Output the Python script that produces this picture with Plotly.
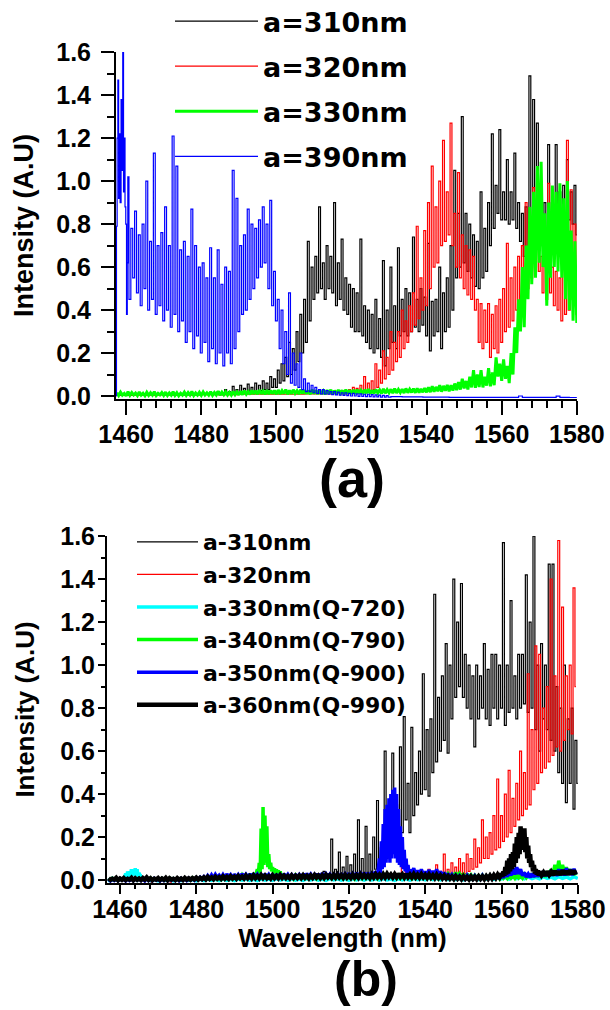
import plotly.graph_objects as go

# ---------------- Panel (a) data ----------------
# a=310nm (black, thin)
A310_BASE_X = [1457.3, 1466.0, 1475.0, 1484.0]
A310_BASE_Y = [0.004, 0.006, 0.005, 0.008]
A310_START = 1484.5
A310_HI = [0.02, 0.015, 0.03, 0.02, 0.045, 0.03, 0.05, 0.035, 0.055, 0.04,
           0.06, 0.05, 0.07, 0.06, 0.09, 0.08, 0.12, 0.15, 0.18, 0.25,
           0.22, 0.3, 0.38, 0.45, 0.72, 0.6, 0.65, 0.88, 0.62, 0.7,
           0.65, 0.9, 0.62, 0.73, 0.55, 0.52, 0.5, 0.48, 0.73, 0.42,
           0.4, 0.38, 0.45, 0.36, 0.63, 0.4, 0.6, 0.42, 0.69, 0.45,
           0.5, 0.48, 0.74, 0.45, 0.5, 0.46, 0.71, 0.44, 0.45, 0.6,
           0.48, 0.55, 0.7, 1.05, 0.85, 1.3, 0.85, 0.8, 0.75, 0.72,
           0.95, 0.78, 0.9, 1.22, 0.98, 1.24, 0.95, 1.1, 0.95, 1.13,
           0.9, 0.85, 0.88, 1.49, 1.38, 1.27, 0.95, 0.9, 1.17, 0.9,
           1.17, 0.95, 0.98, 1.1, 0.95, 0.98]
A310_LO = [0.005, 0.005, 0.008, 0.006, 0.01, 0.01, 0.012, 0.015, 0.015, 0.02,
           0.02, 0.025, 0.03, 0.03, 0.04, 0.04, 0.06, 0.07, 0.09, 0.1,
           0.12, 0.16, 0.2, 0.25, 0.35, 0.45, 0.48, 0.5, 0.45, 0.5,
           0.48, 0.42, 0.45, 0.4, 0.38, 0.32, 0.3, 0.3, 0.28, 0.25,
           0.22, 0.2, 0.22, 0.18, 0.14, 0.22, 0.25, 0.22, 0.28, 0.3,
           0.28, 0.3, 0.32, 0.3, 0.33, 0.28, 0.21, 0.28, 0.3, 0.22,
           0.3, 0.32, 0.4, 0.55, 0.6, 0.62, 0.58, 0.55, 0.51, 0.5,
           0.55, 0.58, 0.7, 0.78, 0.85, 0.82, 0.82, 0.8, 0.82, 0.78,
           0.72, 0.65, 0.6, 0.7, 0.75, 0.8, 0.7, 0.65, 0.68, 0.72,
           0.75, 0.8, 0.78, 0.82, 0.8, 0.75]

# a=320nm (red, thin)
A320_BASE_X = [1457.3, 1480.0, 1500.0, 1515.0]
A320_BASE_Y = [0.004, 0.006, 0.008, 0.01]
A320_START = 1515.5
A320_HI = [0.02, 0.018, 0.025, 0.02, 0.03, 0.04, 0.035, 0.05, 0.09, 0.06,
           0.07, 0.15, 0.12, 0.21, 0.18, 0.3, 0.25, 0.3, 0.4, 0.35,
           0.42, 0.48, 0.79, 0.55, 0.77, 0.9, 1.07, 0.88, 1.0, 1.19,
           0.95, 1.27, 0.85, 1.04, 0.75, 0.7, 0.68, 0.65, 0.45, 0.43,
           0.4, 0.43, 0.38, 0.42, 0.45, 0.5, 0.71, 0.55, 0.6, 0.65,
           0.7, 0.9, 0.75, 0.97, 0.85, 0.65, 0.62, 0.99, 0.6, 0.58,
           0.55, 0.6, 1.19, 0.96, 0.8]
A320_LO = [0.008, 0.01, 0.008, 0.01, 0.012, 0.015, 0.015, 0.02, 0.02, 0.025,
           0.03, 0.04, 0.06, 0.08, 0.1, 0.12, 0.16, 0.18, 0.22, 0.25,
           0.3, 0.33, 0.36, 0.4, 0.42, 0.5, 0.6, 0.62, 0.7, 0.72,
           0.75, 0.7, 0.6, 0.55, 0.5, 0.47, 0.45, 0.4, 0.25, 0.22,
           0.25, 0.18, 0.22, 0.2, 0.25, 0.3, 0.32, 0.35, 0.4, 0.42,
           0.45, 0.5, 0.55, 0.6, 0.58, 0.48, 0.45, 0.48, 0.42, 0.4,
           0.35, 0.38, 0.4, 0.45, 0.38]

# a=330nm (green, thick)
A330_START = 1457.5
A330_HI = [0.015, 0.018, 0.012, 0.02, 0.016, 0.014, 0.019, 0.013, 0.017, 0.015,
           0.02, 0.012, 0.016, 0.018, 0.014, 0.02, 0.015, 0.013, 0.018, 0.016,
           0.021, 0.014, 0.017, 0.019, 0.015, 0.02, 0.016, 0.022, 0.018, 0.02,
           0.017, 0.021, 0.019,
           0.022, 0.025, 0.02, 0.026, 0.024, 0.028, 0.023, 0.027, 0.025, 0.026,
           0.028, 0.025, 0.03, 0.026, 0.029, 0.024, 0.03, 0.027, 0.025, 0.029,
           0.026, 0.028, 0.024, 0.027, 0.029, 0.025, 0.028, 0.026, 0.03, 0.027,
           0.028, 0.03, 0.026, 0.029, 0.032, 0.027, 0.03, 0.028, 0.033, 0.029,
           0.031, 0.034, 0.03, 0.032, 0.035, 0.031, 0.034, 0.036, 0.033, 0.037,
           0.04, 0.045, 0.042, 0.05, 0.047, 0.052, 0.05, 0.058,
           0.065, 0.08, 0.07, 0.09, 0.12,
           0.1, 0.12, 0.09, 0.13, 0.11,
           0.18, 0.15, 0.17, 0.14, 0.2, 0.32, 0.45,
           0.6, 0.7, 0.88, 0.95, 1.07, 1.09, 0.85, 0.9, 0.98, 0.95,
           0.99, 0.92, 1.0, 0.77, 0.72]
A330_LO = [0.002, 0.004, 0.0, 0.003, 0.005, 0.002, 0.004, 0.001, 0.003, 0.004,
           0.002, 0.005, 0.003, 0.002, 0.004, 0.003, 0.001, 0.004, 0.003, 0.005,
           0.002, 0.004, 0.003, 0.005, 0.004, 0.003, 0.005, 0.004, 0.006, 0.005,
           0.004, 0.006, 0.005,
           0.006, 0.008, 0.007, 0.009, 0.008, 0.01, 0.008, 0.009, 0.01, 0.008,
           0.009, 0.011, 0.008, 0.01, 0.012, 0.009, 0.011, 0.01, 0.008, 0.011,
           0.009, 0.01, 0.008, 0.011, 0.009, 0.01, 0.012, 0.009, 0.011, 0.01,
           0.01, 0.012, 0.01, 0.013, 0.011, 0.012, 0.014, 0.012, 0.013, 0.015,
           0.013, 0.014, 0.016, 0.014, 0.015, 0.017, 0.015, 0.016, 0.018, 0.017,
           0.018, 0.02, 0.022, 0.02, 0.024, 0.022, 0.025, 0.027,
           0.03, 0.035, 0.03, 0.04, 0.038,
           0.042, 0.04, 0.048, 0.045, 0.05,
           0.09, 0.07, 0.08, 0.06, 0.1, 0.2, 0.3,
           0.32, 0.45, 0.52, 0.55, 0.62, 0.6, 0.42, 0.55, 0.6, 0.58,
           0.55, 0.45, 0.4, 0.35, 0.34]

# a=390nm (blue, thin)
A390_HEAD_X = [1457.35, 1457.5, 1457.7, 1457.9, 1458.1, 1458.3, 1458.5, 1458.8,
               1459.0, 1459.2, 1459.4, 1459.6, 1459.8, 1460.0, 1460.2, 1460.4]
A390_HEAD_Y = [0.0, 0.79, 1.2, 1.47, 0.92, 1.22, 0.9, 1.38,
               1.05, 1.6, 0.95, 1.2, 0.88, 0.8, 0.38, 0.62]
A390_START = 1460.5
A390_HI = [1.02, 0.78, 0.86, 0.75, 0.8, 1.0, 0.72, 1.13, 0.7, 0.76,
           0.88, 0.7, 1.21, 1.07, 0.68, 0.72, 0.65, 0.87, 0.7, 0.6,
           0.62, 0.55, 0.69, 0.55, 0.68, 0.52, 0.6, 0.58, 1.05, 0.92,
           0.7, 0.75, 0.87, 0.8, 0.78, 0.82, 0.88, 0.8, 0.91, 0.58,
           0.45, 0.4, 0.3, 0.48, 0.2, 0.15, 0.2, 0.08, 0.06, 0.05,
           0.04, 0.03, 0.03, 0.025, 0.02, 0.02, 0.018, 0.015, 0.015, 0.012,
           0.012, 0.01, 0.01, 0.008, 0.008, 0.006, 0.005, 0.004, 0.003, 0.002]
A390_LO = [0.45, 0.55, 0.48, 0.42, 0.5, 0.4, 0.45, 0.38, 0.42, 0.35,
           0.4, 0.32, 0.38, 0.3, 0.35, 0.25, 0.3, 0.22, 0.28, 0.2,
           0.25, 0.16, 0.22, 0.15, 0.2, 0.14, 0.2, 0.15, 0.22, 0.3,
           0.38, 0.4, 0.45, 0.5, 0.55, 0.6, 0.62, 0.5, 0.42, 0.35,
           0.22, 0.15, 0.1, 0.06, 0.05, 0.04, 0.03, 0.02, 0.02, 0.015,
           0.012, 0.01, 0.01, 0.008, 0.006, 0.005, 0.004, 0.003, 0.002, 0.0,
           0.0, -0.002, -0.002, -0.003, -0.003, -0.004, -0.004, -0.005, -0.005, -0.005]
A390_TAIL_X = [1531.0, 1536.0, 1542.0, 1550.0, 1558.0, 1564.0, 1565.0, 1566.0,
               1568.0, 1574.0, 1575.0, 1576.0, 1580.0]
A390_TAIL_Y = [-0.003, -0.004, -0.005, -0.006, -0.006, -0.006, 0.0, -0.006,
               -0.006, -0.006, -0.001, -0.006, -0.007]

# ---------------- Panel (b) data ----------------
# a-310nm (black, thin)
B310_BASE_X = [1456.8, 1480.0, 1500.0, 1510.0]
B310_BASE_Y = [0.003, 0.005, 0.008, 0.01]
B310_START = 1510.5
B310_HI = [0.02, 0.03, 0.02, 0.04, 0.03, 0.19, 0.05, 0.13, 0.06, 0.11,
           0.07, 0.12, 0.28, 0.1, 0.25, 0.12, 0.2, 0.37, 0.15, 0.6,
           0.3, 0.59, 0.35, 0.62, 0.76, 0.45, 0.71, 0.5, 0.6, 0.96,
           0.7, 0.75, 1.33, 0.85, 0.95, 1.1, 1.0, 1.4, 1.2, 1.38,
           1.05, 1.0, 0.95, 1.0, 0.95, 1.1, 0.98, 1.05, 1.05, 1.0,
           1.57, 1.0, 1.3, 0.95, 1.05, 1.05, 1.42, 1.2, 1.6, 1.0,
           1.1, 1.0, 1.47, 1.47, 0.9, 0.8, 1.0, 0.75, 0.8, 0.65]
B310_LO = [0.008, 0.01, 0.01, 0.012, 0.012, 0.015, 0.015, 0.02, 0.02, 0.02,
           0.025, 0.025, 0.03, 0.03, 0.035, 0.04, 0.05, 0.06, 0.08, 0.1,
           0.15, 0.18, 0.2, 0.22, 0.28, 0.22, 0.3, 0.35, 0.4, 0.42,
           0.39, 0.5, 0.55, 0.6, 0.65, 0.59, 0.75, 0.85, 0.9, 0.85,
           0.8, 0.75, 0.62, 0.75, 0.8, 0.75, 0.72, 0.8, 0.75, 0.8,
           0.72, 0.78, 0.8, 0.75, 0.8, 0.82, 0.78, 0.8, 0.7, 0.6,
           0.75, 0.7, 0.65, 0.6, 0.5, 0.45, 0.36, 0.45, 0.33, 0.45]

# a-320nm (red, thin)
B320_BASE_X = [1456.8, 1468.0, 1468.3, 1468.6, 1473.0, 1473.3, 1473.6, 1500.0,
               1520.0, 1533.0, 1534.5, 1535.0, 1539.5]
B320_BASE_Y = [0.0, 0.0, -0.012, 0.0, 0.0, -0.01, 0.0, 0.005,
               0.008, 0.01, 0.11, 0.01, 0.01]
B320_START = 1540.0
B320_HI = [0.03, 0.05, 0.02, 0.07, 0.04, 0.12, 0.05, 0.08, 0.06, 0.1,
           0.08, 0.12, 0.1, 0.19, 0.15, 0.28, 0.2, 0.22, 0.3, 0.47,
           0.3, 0.4, 0.51, 0.38, 0.45, 0.6, 0.5, 0.96, 0.7, 1.09,
           1.05, 0.8, 0.9, 1.4, 0.95, 1.58, 1.27, 0.95, 1.0, 1.36]
B320_LO = [0.005, 0.008, 0.006, 0.01, 0.01, 0.012, 0.015, 0.02, 0.02, 0.03,
           0.03, 0.04, 0.05, 0.06, 0.08, 0.1, 0.1, 0.12, 0.14, 0.15,
           0.18, 0.2, 0.22, 0.25, 0.28, 0.3, 0.33, 0.35, 0.42, 0.45,
           0.5, 0.52, 0.55, 0.58, 0.62, 0.6, 0.65, 0.7, 0.68, 0.9]

# a-330nm(Q-720) (cyan, thick)
B330_BASE_X = [1456.8, 1459.0, 1461.0]
B330_BASE_Y = [-0.002, 0.0, 0.004]
B330_PEAK_START = 1461.5
B330_PEAK_HI = [0.03, 0.04, 0.035, 0.05, 0.045, 0.055, 0.05, 0.035, 0.015]
B330_PEAK_LO = [0.01, 0.015, 0.02, 0.02, 0.025, 0.02, 0.015, 0.01, 0.003]
B330_START = 1467.0
B330_HI = [0.003, 0.002, 0.004, 0.002, 0.003, 0.004, 0.002, 0.003, 0.004, 0.003,
           0.004, 0.003, 0.005, 0.004, 0.003, 0.005, 0.004, 0.006, 0.004, 0.005,
           0.004, 0.006, 0.005, 0.004, 0.006, 0.005, 0.004, 0.006, 0.005, 0.006,
           0.005, 0.006, 0.004, 0.006, 0.005, 0.007, 0.006, 0.008, 0.007, 0.009,
           0.008, 0.007, 0.009, 0.008, 0.01, 0.009, 0.012, 0.011, 0.013, 0.012,
           0.014, 0.012, 0.015, 0.013, 0.016, 0.014, 0.015]
B330_LO = [-0.003, -0.004, -0.002, -0.004, -0.003, -0.002, -0.004, -0.003, -0.002, -0.003,
           -0.002, -0.003, -0.001, -0.002, -0.003, -0.001, -0.002, 0.0, -0.002, -0.001,
           -0.002, 0.0, -0.001, -0.002, 0.0, -0.001, -0.002, 0.0, -0.001, 0.0,
           -0.001, 0.0, -0.002, 0.0, -0.001, 0.001, 0.0, 0.002, 0.001, 0.002,
           0.002, 0.001, 0.003, 0.002, 0.004, 0.003, 0.005, 0.004, 0.006, 0.005,
           0.006, 0.005, 0.007, 0.006, 0.008, 0.006, 0.007]

# a-340nm(Q-790) (green, thick)
B340_START = 1457.0
B340_HI = [0.006, 0.008, 0.005, 0.007, 0.009, 0.006, 0.008, 0.005, 0.007, 0.008,
           0.006, 0.009, 0.007, 0.005, 0.008, 0.006, 0.009, 0.007, 0.008, 0.006,
           0.009, 0.007, 0.01, 0.008, 0.011, 0.009, 0.012, 0.01, 0.013, 0.011,
           0.014, 0.012, 0.016, 0.018, 0.02, 0.024, 0.022, 0.028, 0.03]
B340_LO = [0.0, 0.002, -0.001, 0.001, 0.002, 0.0, 0.001, -0.001, 0.002, 0.001,
           0.0, 0.002, 0.001, -0.001, 0.001, 0.0, 0.002, 0.001, 0.002, 0.0,
           0.002, 0.001, 0.003, 0.002, 0.003, 0.002, 0.004, 0.003, 0.004, 0.003,
           0.005, 0.004, 0.006, 0.007, 0.008, 0.01, 0.009, 0.012, 0.013]
B340_PEAK_START = 1496.0
B340_PEAK_HI = [0.05, 0.08, 0.24, 0.34, 0.3, 0.25, 0.12, 0.08, 0.06, 0.055,
                0.05, 0.045, 0.04, 0.03, 0.025, 0.022]
B340_PEAK_LO = [0.02, 0.03, 0.05, 0.07, 0.08, 0.06, 0.05, 0.04, 0.03, 0.025,
                0.02, 0.02, 0.015, 0.012, 0.01, 0.01]
B340_TAIL_START = 1504.0
B340_TAIL_HI = [0.02, 0.018, 0.022, 0.019, 0.02, 0.017, 0.021, 0.018, 0.02, 0.019,
                0.021, 0.018, 0.02, 0.022, 0.019, 0.021, 0.02, 0.018, 0.022, 0.02,
                0.021, 0.019, 0.022, 0.02, 0.024, 0.026, 0.03, 0.022, 0.02, 0.021,
                0.02, 0.022, 0.019, 0.021, 0.02, 0.022, 0.018, 0.02, 0.021, 0.019,
                0.022, 0.025, 0.028, 0.03, 0.035, 0.03, 0.025, 0.028, 0.024, 0.022,
                0.02, 0.022, 0.019, 0.021, 0.02, 0.018, 0.022, 0.02, 0.024, 0.022,
                0.025, 0.023, 0.026, 0.028, 0.03, 0.032, 0.035, 0.03, 0.04, 0.05,
                0.07, 0.09, 0.07, 0.06, 0.05, 0.045]
B340_TAIL_LO = [0.008, 0.006, 0.009, 0.007, 0.008, 0.006, 0.009, 0.007, 0.008, 0.007,
                0.009, 0.007, 0.008, 0.01, 0.007, 0.009, 0.008, 0.006, 0.009, 0.008,
                0.009, 0.007, 0.01, 0.008, 0.01, 0.012, 0.014, 0.01, 0.008, 0.009,
                0.008, 0.01, 0.007, 0.009, 0.008, 0.01, 0.007, 0.008, 0.009, 0.007,
                0.01, 0.012, 0.014, 0.015, 0.016, 0.014, 0.012, 0.013, 0.011, 0.01,
                0.008, 0.01, 0.007, 0.009, 0.008, 0.006, 0.009, 0.008, 0.01, 0.009,
                0.011, 0.01, 0.012, 0.013, 0.014, 0.015, 0.016, 0.014, 0.02, 0.025,
                0.03, 0.035, 0.03, 0.028, 0.025, 0.022]

# a-350nm(Q-900) (blue, thick)
B350_START = 1457.0
B350_HI = [0.004, 0.006, 0.005, 0.007, 0.004, 0.006, 0.005, 0.007, 0.006, 0.004,
           0.006, 0.005, 0.007, 0.004, 0.006, 0.005, 0.007, 0.006, 0.005, 0.007,
           0.006, 0.008, 0.007, 0.01, 0.012, 0.015, 0.02, 0.024, 0.026, 0.022,
           0.025, 0.028, 0.024, 0.027, 0.025, 0.029, 0.026, 0.028, 0.03, 0.027,
           0.025, 0.028, 0.026, 0.024, 0.027, 0.025, 0.028, 0.026, 0.024, 0.027,
           0.025, 0.028, 0.03, 0.027, 0.025, 0.029, 0.032, 0.028, 0.026, 0.029,
           0.027, 0.03, 0.028, 0.031, 0.029, 0.033, 0.03, 0.034, 0.032, 0.035,
           0.04]
B350_LO = [-0.004, -0.002, -0.003, -0.001, -0.004, -0.002, -0.003, -0.001, -0.002, -0.004,
           -0.002, -0.003, -0.001, -0.004, -0.002, -0.003, -0.001, -0.002, -0.003, -0.001,
           -0.002, 0.0, -0.001, 0.002, 0.003, 0.005, 0.008, 0.01, 0.012, 0.01,
           0.011, 0.013, 0.01, 0.012, 0.011, 0.014, 0.012, 0.013, 0.015, 0.012,
           0.011, 0.013, 0.012, 0.01, 0.012, 0.011, 0.013, 0.012, 0.01, 0.012,
           0.011, 0.013, 0.014, 0.012, 0.011, 0.013, 0.015, 0.013, 0.012, 0.014,
           0.012, 0.014, 0.013, 0.015, 0.014, 0.016, 0.014, 0.016, 0.015, 0.017,
           0.02]
B350_PEAK_START = 1528.0
B350_PEAK_HI = [0.1, 0.18, 0.26, 0.33, 0.35, 0.38, 0.4, 0.42, 0.43, 0.4,
                0.33, 0.25, 0.2, 0.14, 0.1, 0.07, 0.05]
B350_PEAK_LO = [0.03, 0.05, 0.06, 0.08, 0.1, 0.08, 0.1, 0.12, 0.1, 0.08,
                0.07, 0.06, 0.05, 0.04, 0.03, 0.03, 0.025]
B350_TAIL_START = 1537.0
B350_TAIL_HI = [0.055, 0.045, 0.05, 0.04, 0.048, 0.042, 0.05, 0.04, 0.035, 0.03,
                0.025, 0.022, 0.02, 0.018, 0.022, 0.019, 0.02, 0.017, 0.021, 0.018,
                0.02, 0.022, 0.019, 0.025, 0.035, 0.045, 0.055, 0.06, 0.05, 0.035,
                0.028, 0.03, 0.035, 0.032, 0.04, 0.038, 0.045, 0.042, 0.05, 0.048,
                0.055, 0.05, 0.052]
B350_TAIL_LO = [0.02, 0.018, 0.022, 0.016, 0.02, 0.018, 0.02, 0.015, 0.014, 0.012,
                0.01, 0.008, 0.007, 0.006, 0.008, 0.006, 0.007, 0.005, 0.007, 0.006,
                0.007, 0.008, 0.006, 0.01, 0.015, 0.02, 0.025, 0.028, 0.02, 0.014,
                0.012, 0.014, 0.016, 0.015, 0.018, 0.017, 0.02, 0.019, 0.022, 0.021,
                0.024, 0.022, 0.025]

# a-360nm(Q-990) (black, thick)
B360_START = 1457.0
B360_HI = [0.008, 0.006, 0.01, 0.007, 0.009, 0.006, 0.01, 0.008, 0.007, 0.009,
           0.012, 0.008, 0.006, 0.009, 0.007, 0.01, 0.008, 0.006, 0.009, 0.007,
           0.01, 0.008, 0.009, 0.011, 0.01, 0.012, 0.014, 0.012, 0.015, 0.013,
           0.016, 0.014, 0.017, 0.015, 0.018, 0.016, 0.02, 0.018, 0.021, 0.019,
           0.022, 0.02, 0.018, 0.021, 0.019, 0.022, 0.02, 0.018, 0.021, 0.019,
           0.02, 0.022, 0.019, 0.021, 0.023, 0.02, 0.022, 0.024, 0.021, 0.023,
           0.025, 0.022, 0.024, 0.021, 0.025, 0.023, 0.026, 0.024, 0.022, 0.025,
           0.027, 0.024, 0.026, 0.028, 0.025, 0.027, 0.029, 0.026, 0.028, 0.025,
           0.027, 0.024, 0.026, 0.023, 0.025, 0.022, 0.024, 0.021, 0.02, 0.018,
           0.016, 0.018, 0.015, 0.017, 0.014, 0.016, 0.015, 0.017, 0.016, 0.018,
           0.02, 0.022, 0.025]
B360_LO = [0.0, 0.002, -0.001, 0.001, 0.0, 0.002, -0.001, 0.001, 0.0, 0.002,
           0.001, -0.001, 0.002, 0.0, 0.001, -0.001, 0.002, 0.0, 0.001, 0.0,
           0.002, 0.001, 0.003, 0.002, 0.004, 0.003, 0.005, 0.004, 0.006, 0.005,
           0.006, 0.005, 0.007, 0.006, 0.008, 0.007, 0.008, 0.007, 0.009, 0.008,
           0.009, 0.008, 0.007, 0.009, 0.008, 0.01, 0.009, 0.008, 0.01, 0.009,
           0.009, 0.01, 0.008, 0.01, 0.011, 0.009, 0.01, 0.012, 0.01, 0.011,
           0.012, 0.01, 0.011, 0.01, 0.012, 0.011, 0.013, 0.012, 0.01, 0.012,
           0.013, 0.011, 0.012, 0.014, 0.012, 0.013, 0.014, 0.012, 0.013, 0.012,
           0.012, 0.011, 0.012, 0.01, 0.011, 0.009, 0.01, 0.008, 0.007, 0.006,
           0.005, 0.006, 0.004, 0.005, 0.003, 0.005, 0.004, 0.005, 0.004, 0.006,
           0.007, 0.009, 0.012]
B360_PEAK_START = 1560.0
B360_PEAK_HI = [0.03, 0.04, 0.06, 0.09, 0.1, 0.12, 0.13, 0.17, 0.2, 0.22,
                0.25, 0.24, 0.24, 0.2, 0.16, 0.12, 0.09, 0.07, 0.05, 0.045]
B360_PEAK_LO = [0.015, 0.02, 0.025, 0.03, 0.04, 0.05, 0.06, 0.08, 0.1, 0.12,
                0.14, 0.15, 0.13, 0.1, 0.08, 0.06, 0.04, 0.03, 0.025, 0.02]
B360_TAIL_START = 1570.0
B360_TAIL_HI = [0.04, 0.035, 0.04, 0.038, 0.042, 0.04, 0.045, 0.042, 0.046, 0.044]
B360_TAIL_LO = [0.022, 0.02, 0.024, 0.022, 0.025, 0.024, 0.026, 0.025, 0.027, 0.026]

TICK_X = [1460, 1480, 1500, 1520, 1540, 1560, 1580]
TICK_Y = [0.0, 0.2, 0.4, 0.6, 0.8, 1.0, 1.2, 1.4, 1.6]


# ---------------- helpers ----------------
def zig(start, step, hi, lo):
    """Interleave the read spike tops (hi) and bottoms (lo) along the wavelength grid."""
    xs, ys = [], []
    for k in range(min(len(hi), len(lo))):
        x0 = start + k * step
        xs.extend([x0, x0 + step / 2.0])
        ys.extend([hi[k], lo[k]])
    return xs, ys


def join(*parts):
    xs, ys = [], []
    for px, py in parts:
        xs.extend(px)
        ys.extend(py)
    return xs, ys


fig = go.Figure()


def add(xy, name, color, width, xa, ya, leg, shape="linear"):
    fig.add_trace(go.Scatter(
        x=xy[0], y=xy[1], mode="lines", name=name,
        line=dict(color=color, width=width, shape=shape),
        xaxis=xa, yaxis=ya, legend=leg, legendgroup=name,
        hoverinfo="skip"))


THIN = 1.2
THICK = 3.5

# panel (a)
add(join((A310_BASE_X, A310_BASE_Y), zig(A310_START, 1.0, A310_HI, A310_LO)),
    "a=310nm", "#000000", THIN, "x", "y", "legend", "hvh")
add(join((A320_BASE_X, A320_BASE_Y), zig(A320_START, 1.0, A320_HI, A320_LO)),
    "a=320nm", "#ff0000", THIN, "x", "y", "legend", "hvh")
add(zig(A330_START, 1.0, A330_HI, A330_LO),
    "a=330nm", "#00ff00", 3, "x", "y", "legend")
add(join((A390_HEAD_X, A390_HEAD_Y), zig(A390_START, 1.0, A390_HI, A390_LO),
         (A390_TAIL_X, A390_TAIL_Y)),
    "a=390nm", "#0000ff", THIN, "x", "y", "legend", "hvh")

# panel (b)
add(join((B310_BASE_X, B310_BASE_Y), zig(B310_START, 1.0, B310_HI, B310_LO)),
    "a-310nm", "#000000", THIN, "x2", "y2", "legend2", "hvh")
add(join((B320_BASE_X, B320_BASE_Y), zig(B320_START, 1.0, B320_HI, B320_LO)),
    "a-320nm", "#ff0000", THIN, "x2", "y2", "legend2", "hvh")
add(join((B330_BASE_X, B330_BASE_Y), zig(B330_PEAK_START, 0.5, B330_PEAK_HI, B330_PEAK_LO),
         zig(B330_START, 2.0, B330_HI, B330_LO)),
    "a-330nm(Q-720)", "#00ffff", THICK, "x2", "y2", "legend2")
add(join(zig(B340_START, 1.0, B340_HI, B340_LO), zig(B340_PEAK_START, 0.5, B340_PEAK_HI, B340_PEAK_LO),
         zig(B340_TAIL_START, 1.0, B340_TAIL_HI, B340_TAIL_LO)),
    "a-340nm(Q-790)", "#00ff00", THICK, "x2", "y2", "legend2")
add(join(zig(B350_START, 1.0, B350_HI, B350_LO), zig(B350_PEAK_START, 0.5, B350_PEAK_HI, B350_PEAK_LO),
         zig(B350_TAIL_START, 1.0, B350_TAIL_HI, B350_TAIL_LO)),
    "a-350nm(Q-900)", "#0000ff", THICK, "x2", "y2", "legend2")
add(join(zig(B360_START, 1.0, B360_HI, B360_LO), zig(B360_PEAK_START, 0.5, B360_PEAK_HI, B360_PEAK_LO),
         zig(B360_TAIL_START, 1.0, B360_TAIL_HI, B360_TAIL_LO)),
    "a-360nm(Q-990)", "#000000", 4.5, "x2", "y2", "legend2")

W, H = 610, 1010
FAM = "Liberation Sans, Arial, sans-serif"
TICKFONT = dict(family=FAM, size=25, color="black", weight="bold")


def xaxis(domain, rng, anchor, ticklen, mlen, standoff, title=None):
    d = dict(domain=domain, range=rng, anchor=anchor, tickmode="array", tickvals=TICK_X,
             ticktext=[str(v) for v in TICK_X],
             showline=True, linecolor="black", linewidth=2, ticks="outside", ticklen=ticklen,
             tickwidth=1.5, tickcolor="black", showgrid=False, zeroline=False,
             tickfont=TICKFONT, ticklabelstandoff=standoff, automargin=False,
             minor=dict(dtick=4, tick0=1460, ticks="outside", ticklen=mlen, tickwidth=1.5,
                        tickcolor="black", showgrid=False))
    if title:
        d["title"] = dict(text=title, font=dict(family=FAM, size=26, color="black", weight="bold"),
                          standoff=6)
    return d


def yaxis(domain, anchor, ticklen, mlen, standoff, tsize, tstand):
    return dict(domain=domain, range=[-0.014, 1.601], anchor=anchor, tickmode="array",
                tickvals=TICK_Y, ticktext=["%.1f" % v for v in TICK_Y],
                showline=True, linecolor="black", linewidth=2, ticks="outside", ticklen=ticklen,
                tickwidth=1.5, tickcolor="black", showgrid=False, zeroline=False,
                tickfont=TICKFONT, ticklabelstandoff=standoff, automargin=False,
                minor=dict(dtick=0.1, tick0=0, ticks="outside", ticklen=mlen, tickwidth=1.5,
                           tickcolor="black", showgrid=False),
                title=dict(text="Intensity (A.U)",
                           font=dict(family=FAM, size=tsize, color="black", weight="bold"),
                           standoff=tstand))


fig.update_layout(
    width=W, height=H, margin=dict(l=0, r=0, t=0, b=0, pad=0, autoexpand=False),
    paper_bgcolor="white", plot_bgcolor="white",
    xaxis=xaxis([116 / W, 577 / W], [1457.3, 1580.05], "y", 14, 7, -2),
    yaxis=yaxis([1 - 399 / H, 1 - 52 / H], "x", 13, 7, 5, 27, 15),
    xaxis2=xaxis([107 / W, 578 / W], [1456.6, 1580.05], "y2", 9, 4, -6, "Wavelength (nm)"),
    yaxis2=yaxis([1 - 883 / H, 1 - 536 / H], "x2", 7, 4, -2, 26, 18),
    legend=dict(x=170 / W, y=1 + 3 / H, xanchor="left", yanchor="top", bgcolor="rgba(0,0,0,0)",
                borderwidth=0, itemwidth=83, traceorder="grouped", tracegroupgap=7,
                font=dict(family="DejaVu Sans", size=27, color="black", weight="bold")),
    legend2=dict(x=132 / W, y=1 - 521 / H, xanchor="left", yanchor="top", bgcolor="rgba(0,0,0,0)",
                 borderwidth=0, itemwidth=61, traceorder="grouped", tracegroupgap=1,
                 font=dict(family="DejaVu Sans", size=22, color="black", weight="bold")),
    annotations=[
        dict(text="(a)", x=352 / W, y=1 - 478 / H, xref="paper", yref="paper",
             showarrow=False, xanchor="center", yanchor="middle",
             font=dict(family=FAM, size=54, color="black", weight="bold")),
        dict(text="(b)", x=366 / W, y=1 - 979 / H, xref="paper", yref="paper",
             showarrow=False, xanchor="center", yanchor="middle",
             font=dict(family=FAM, size=50, color="black", weight="bold")),
    ],
)

fig.write_html("out.html")
